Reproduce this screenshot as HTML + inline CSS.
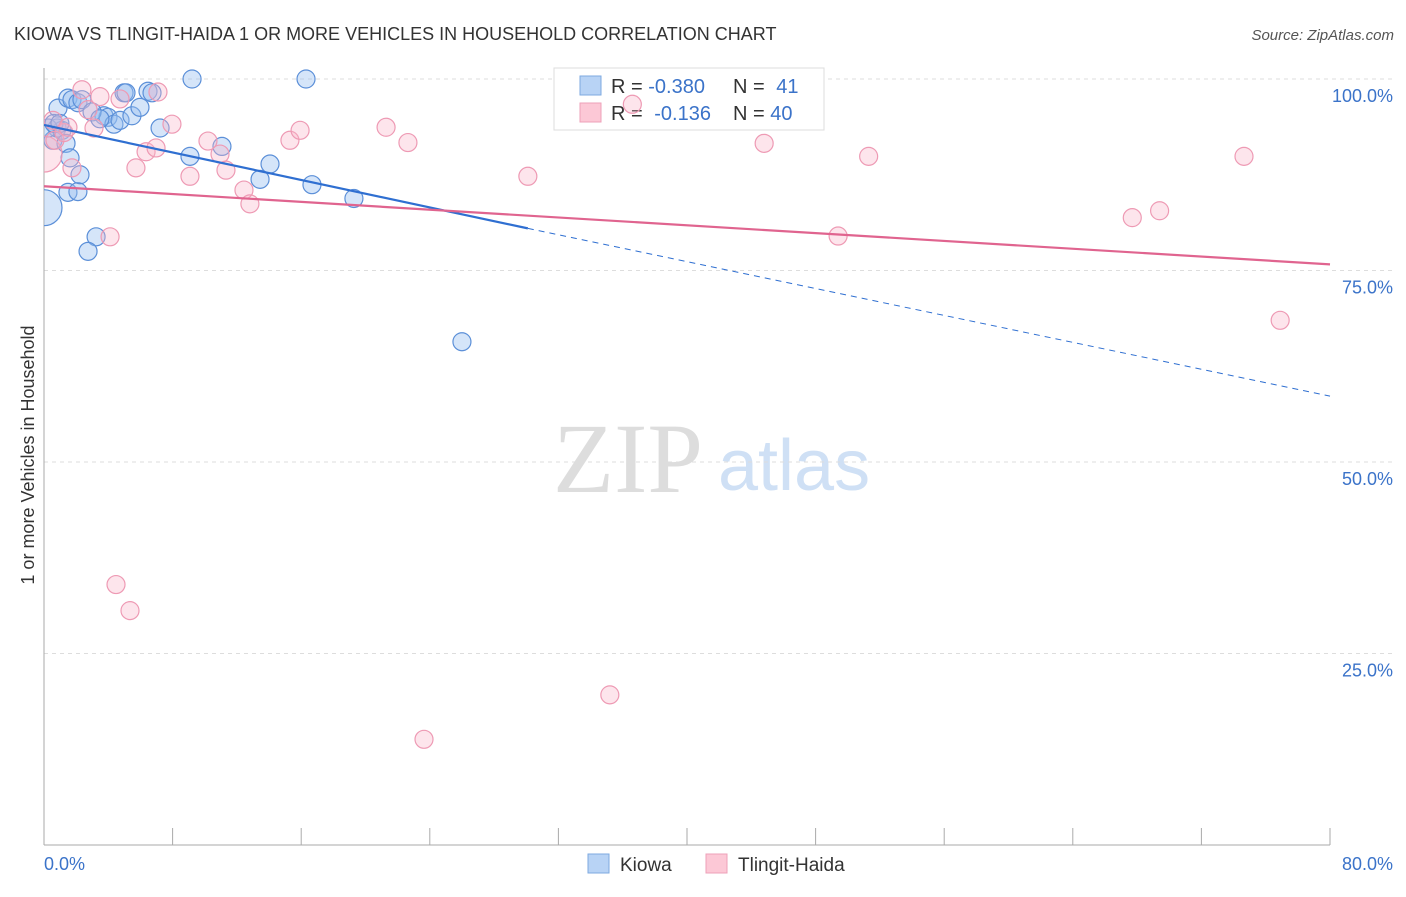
<!DOCTYPE html>
<html><head><meta charset="utf-8"><style>
body{margin:0;background:#fff;font-family:"Liberation Sans",sans-serif}
</style></head><body>
<svg id="chart" width="1406" height="892" xmlns="http://www.w3.org/2000/svg" font-family="Liberation Sans, sans-serif">
<defs><clipPath id="plotclip"><rect x="44" y="50" width="1360" height="795"/></clipPath></defs>
<text x="14" y="40" font-size="18" fill="#333">KIOWA VS TLINGIT-HAIDA 1 OR MORE VEHICLES IN HOUSEHOLD CORRELATION CHART</text>
<text x="1394" y="40" font-size="15" fill="#555" font-style="italic" text-anchor="end">Source: ZipAtlas.com</text>
<text x="34" y="455" font-size="18" fill="#333" text-anchor="middle" transform="rotate(-90 34 455)">1 or more Vehicles in Household</text>
<text x="553" y="492" font-size="100" fill="#ddd" font-family="Liberation Serif, serif">ZIP</text>
<text x="718" y="490" font-size="72" fill="#cfe0f5">atlas</text>
<g id="grid"></g>
<g>
<rect x="554" y="68" width="270" height="62" fill="#fff" stroke="#ddd"/>
<rect x="580" y="76" width="21" height="19" fill="#b8d3f5" stroke="#7ea9e0"/>
<text x="611" y="93" font-size="20" fill="#333">R = <tspan fill="#3b73c9">-0.380</tspan></text>
<text x="733" y="93" font-size="20" fill="#333">N = <tspan fill="#3b73c9" dx="6">41</tspan></text>
<rect x="580" y="103" width="21" height="19" fill="#fcc8d6" stroke="#eea0b8"/>
<text x="611" y="120" font-size="20" fill="#333">R = <tspan fill="#3b73c9" dx="6">-0.136</tspan></text>
<text x="733" y="120" font-size="20" fill="#333">N = <tspan fill="#3b73c9">40</tspan></text>
</g>
<g id="pts" clip-path="url(#plotclip)"></g><g id="lines"></g>
<g>
<rect x="588" y="854" width="21" height="19" fill="#b8d3f5" stroke="#7ea9e0"/>
<text x="620" y="871" font-size="19" fill="#333">Kiowa</text>
<rect x="706" y="854" width="21" height="19" fill="#fcc8d6" stroke="#eea0b8"/>
<text x="738" y="871" font-size="19" fill="#333">Tlingit-Haida</text>
</g>
</svg>
<script>
const yTicks=[25,50,75,100];
const yTickLabels=["25.0%","50.0%","75.0%","100.0%"];
const kiowaX=[0,0.56,0.87,1.49,1.74,2.11,2.36,0.81,1.12,1.37,1.62,1.49,2.11,2.24,3.24,2.74,3.73,3.98,4.35,4.73,4.98,5.1,5.47,5.97,6.47,6.72,7.22,9.21,9.08,11.07,13.44,14.06,16.67,16.3,19.28,26.0,0.25,0.62,0.99,2.99,3.48];
const kiowaY=[83.2,92.0,96.2,97.5,97.3,96.9,97.3,93.6,93.3,91.6,89.7,85.2,85.3,87.5,79.4,77.5,95.2,95.0,94.1,94.6,98.2,98.2,95.2,96.3,98.4,98.2,93.6,100,89.9,91.2,86.9,88.9,86.2,100,84.4,65.7,93.6,94.2,94.2,95.7,94.8];
const kiowaR=[18,9,9,9,9,9,9,9,9,9,9,9,9,9,9,9,9,9,9,9,9,9,9,9,9,9,9,9,9,9,9,9,9,9,9,9,9,9,9,9,9];
const tlX=[0,0.56,0.68,1.24,1.49,1.74,2.36,2.74,3.11,3.48,4.11,4.48,4.73,5.35,5.72,6.35,6.97,7.09,7.96,9.08,10.2,10.95,11.32,12.44,12.81,15.3,15.93,21.28,22.64,23.64,30.1,35.2,36.6,44.8,49.4,51.3,67.7,69.4,74.65,76.9];
const tlY=[90.2,94.6,92.0,93.0,93.7,88.4,98.6,96.0,93.6,97.7,79.4,34.0,97.4,30.6,88.4,90.5,91.0,98.3,94.1,87.3,91.9,90.2,88.1,85.5,83.7,92.0,93.3,93.7,91.7,13.8,87.3,19.6,96.7,91.6,79.5,89.9,81.9,82.8,89.9,68.5];
const tlR=[18,9,9,9,9,9,9,9,9,9,9,9,9,9,9,9,9,9,9,9,9,9,9,9,9,9,9,9,9,9,9,9,9,9,9,9,9,9,9,9];
const kiowaTrend=[0,94.0,30.1,80.5,80,58.6];
const tlTrend=[0,86.0,80,75.8];
const NS="http://www.w3.org/2000/svg";
const sx=v=>44+v*16.075, sy=v=>845-v*7.66;
function mk(t,a,p){const e=document.createElementNS(NS,t);for(const k in a)e.setAttribute(k,a[k]);p.appendChild(e);return e;}
const grid=document.getElementById('grid');
yTicks.forEach((t,i)=>{
 const l=mk('line',{x1:44,x2:1394,y1:sy(t),y2:sy(t),stroke:'#ddd','stroke-dasharray':'4,4'},grid);
 
 
 const tx=mk('text',{x:1393,y:sy(t)+23,'font-size':18,fill:'#3b73c9','text-anchor':'end'},grid);
 tx.textContent=yTickLabels[i];
 
 
});
const ax=mk('line',{x1:44,x2:44,y1:68,y2:845,stroke:'#aaa'},grid);


const bx=mk('line',{x1:44,x2:1330,y1:845,y2:845,stroke:'#aaa'},grid);


for(let i=0;i<=10;i++){const t=mk('line',{x1:sx(i*8),x2:sx(i*8),y1:828,y2:845,stroke:'#aaa'},grid);
 
 }
[["0.0%",44,'start'],["80.0%",1393,'end']].forEach(a=>{const t=mk('text',{x:a[1],y:870,'font-size':18,fill:'#3b73c9','text-anchor':a[2]},grid);t.textContent=a[0];
 
 });
const pts=document.getElementById('pts');
kiowaX.forEach((x,i)=>{const c=mk('circle',{cx:sx(x),cy:sy(kiowaY[i]),r:kiowaR[i],fill:'rgba(150,190,240,0.4)',stroke:'#5b8fd8','stroke-width':1.2},pts);
 
 });
tlX.forEach((x,i)=>{const c=mk('circle',{cx:sx(x),cy:sy(tlY[i]),r:tlR[i],fill:'rgba(250,180,200,0.35)',stroke:'#ee9ab4','stroke-width':1.2},pts);
 
 });
const lines=document.getElementById('lines');
const k=kiowaTrend;
const l1=mk('line',{x1:sx(k[0]),y1:sy(k[1]),x2:sx(k[2]),y2:sy(k[3]),stroke:'#2f6fd1','stroke-width':2.2},lines);


const l2=mk('line',{x1:sx(k[2]),y1:sy(k[3]),x2:sx(k[4]),y2:sy(k[5]),stroke:'#2f6fd1','stroke-width':1,'stroke-dasharray':'6,5'},lines);


const l3=mk('line',{x1:sx(tlTrend[0]),y1:sy(tlTrend[1]),x2:sx(tlTrend[2]),y2:sy(tlTrend[3]),stroke:'#e0648f','stroke-width':2.2},lines);


</script>
</body></html>
